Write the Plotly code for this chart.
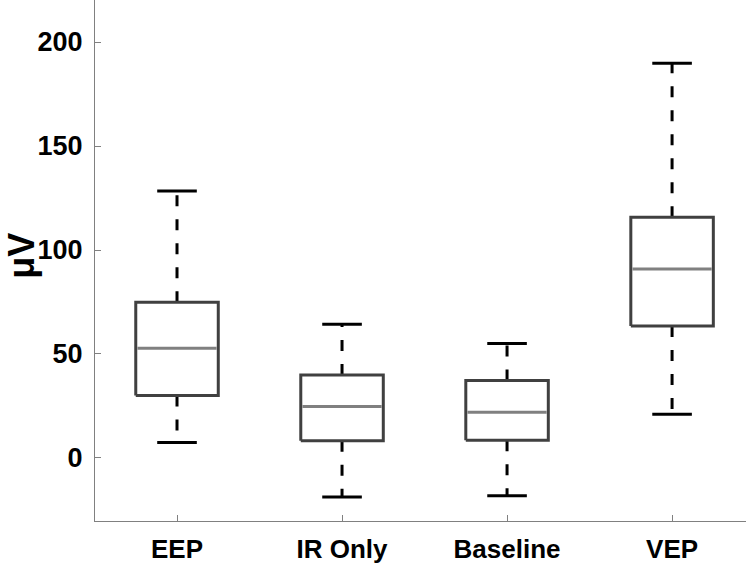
import plotly.graph_objects as go

categories = ["EEP", "IR Only", "Baseline", "VEP"]
upper_whisker = [128.4, 64.3, 55.1, 189.8]
q3 = [74.9, 39.9, 37.2, 115.7]
median = [52.7, 24.7, 22.0, 90.9]
q1 = [30.1, 8.3, 8.5, 63.5]
lower_whisker = [7.4, -18.75, -18.1, 21.0]
y_ticks = [0, 50, 100, 150, 200]
y_title = "μV"

BOX_HALF = 0.25
CAP_HALF = 0.12
BOX_COLOR = "#404040"
MED_COLOR = "#808080"
FONT = "Liberation Sans, Arial, sans-serif"

fig = go.Figure()
for i, name in enumerate(categories):
    x = i + 1
    # whiskers (dashed)
    fig.add_trace(go.Scatter(x=[x, x], y=[q3[i], upper_whisker[i]], mode="lines",
                             line=dict(color="black", width=3, dash="11px,13px"),
                             hoverinfo="skip", showlegend=False))
    fig.add_trace(go.Scatter(x=[x, x], y=[q1[i], lower_whisker[i]], mode="lines",
                             line=dict(color="black", width=3, dash="11px,13px"),
                             hoverinfo="skip", showlegend=False))
    # caps
    for v in (upper_whisker[i], lower_whisker[i]):
        fig.add_trace(go.Scatter(x=[x - CAP_HALF, x + CAP_HALF], y=[v, v], mode="lines",
                                 line=dict(color="black", width=3),
                                 hoverinfo="skip", showlegend=False))
    # box
    fig.add_trace(go.Scatter(
        x=[x - BOX_HALF, x + BOX_HALF, x + BOX_HALF, x - BOX_HALF, x - BOX_HALF],
        y=[q1[i], q1[i], q3[i], q3[i], q1[i]], mode="lines",
        line=dict(color=BOX_COLOR, width=3), fill="toself", fillcolor="white",
        name=name, showlegend=False))
    # median
    fig.add_trace(go.Scatter(x=[x - BOX_HALF + 0.01, x + BOX_HALF - 0.01], y=[median[i], median[i]],
                             mode="lines", line=dict(color=MED_COLOR, width=3),
                             hoverinfo="skip", showlegend=False))

fig.add_annotation(text=y_title, textangle=-90, xref="paper", yref="paper",
                   x=-0.113, y=0.51, xanchor="center", yanchor="middle", showarrow=False,
                   borderpad=0,
                   font=dict(size=36, family=FONT, weight="bold", color="black"))

fig.update_layout(
    width=746, height=565,
    margin=dict(l=95, r=0, t=0, b=44),
    paper_bgcolor="white", plot_bgcolor="white",
    font=dict(family=FONT, color="black"),
    xaxis=dict(range=[0.503, 4.448], tickvals=[1, 2, 3, 4], ticktext=categories,
               automargin=False,
               showgrid=False, zeroline=False, showline=True, linecolor="#808080", linewidth=1,
               ticks="inside", ticklen=6, tickcolor="#808080",
               tickfont=dict(size=26, family=FONT, weight="bold"), ticklabelstandoff=5),
    yaxis=dict(range=[-30.3, 220.2], tickvals=y_ticks, automargin=False,
               showgrid=False, zeroline=False, showline=True, linecolor="#808080", linewidth=1,
               ticks="inside", ticklen=6, tickcolor="#808080",
               tickfont=dict(size=27, family=FONT, weight="bold"), ticklabelstandoff=6),
)

fig.write_html("out.html", config={"displayModeBar": False},
               post_script="document.body.style.margin='0';document.body.style.overflow='hidden';")
